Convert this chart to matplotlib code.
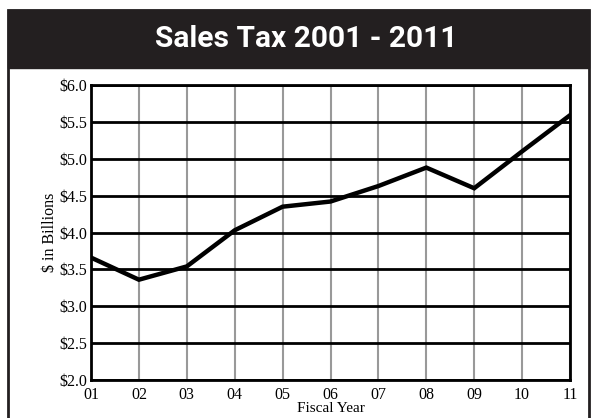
import matplotlib
matplotlib.use('Agg')
import matplotlib.pyplot as plt
from matplotlib.patches import Rectangle

# fiscal years and sales tax (billions of dollars)
years = ['01', '02', '03', '04', '05', '06', '07', '08', '09', '10', '11']
sales_tax = [3.66, 3.36, 3.54, 4.03, 4.35, 4.42, 4.63, 4.88, 4.60, 5.10, 5.59]
y_ticks = [2.0, 2.5, 3.0, 3.5, 4.0, 4.5, 5.0, 5.5, 6.0]
y_labels = ['$%.1f' % v for v in y_ticks]

serif = ['Liberation Serif', 'DejaVu Serif']

fig = plt.figure(figsize=(5.97, 4.18), dpi=100)
W, H = 597.0, 418.0

# outer frame and black title bar
fig.patches.append(Rectangle((8 / W, -0.05), 581 / W, 1 - 10 / H + 0.05,
                             transform=fig.transFigure, fill=False,
                             edgecolor='#231f20', linewidth=2))
fig.patches.append(Rectangle((8 / W, 1 - 68 / H), 581 / W, 58 / H,
                             transform=fig.transFigure, facecolor='#231f20',
                             edgecolor='#231f20'))
fig.text(306 / W, 1 - 47 / H, 'Sales Tax 2001 - 2011', color='white',
         ha='center', va='baseline', fontsize=21.5, fontweight='bold',
         family=['Roboto', 'DejaVu Sans'])

ax = fig.add_axes([91 / W, 1 - 380 / H, (570 - 91) / W, (380 - 85) / H])
x = list(range(len(years)))
ax.plot(x, sales_tax, color='black', linewidth=3.2, zorder=3,
        solid_joinstyle='miter')

ax.set_xlim(0, len(years) - 1)
ax.set_ylim(2.0, 6.0)
ax.set_xticks(x)
ax.set_xticklabels(years, family=serif, fontsize=11.5)
ax.set_yticks(y_ticks)
ax.set_yticklabels(y_labels, family=serif, fontsize=11.5)
ax.tick_params(axis='x', length=0, pad=5)
ax.tick_params(axis='y', length=0, pad=3)

for xi in x:
    ax.axvline(xi, color='#999999', linewidth=1.5, zorder=1)
for yv in y_ticks:
    ax.axhline(yv, color='black', linewidth=2, zorder=2)
for s in ax.spines.values():
    s.set_linewidth(2)
    s.set_zorder(4)

ax.set_xlabel('Fiscal Year', family=serif, fontsize=11, labelpad=-1)
ax.set_ylabel('$ in Billions', family=serif, fontsize=11.5, labelpad=1)

fig.savefig('out.png', dpi=100)
